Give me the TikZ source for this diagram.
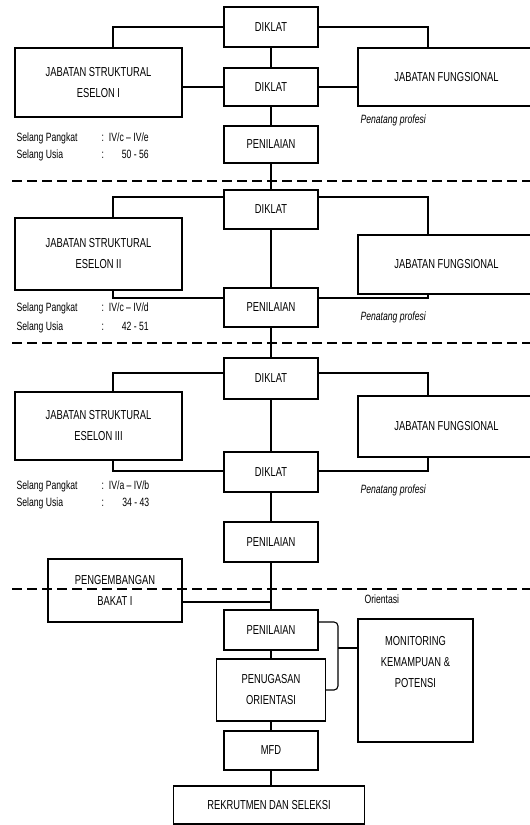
\documentclass[tikz,border=0pt]{standalone}
\usepackage{fontspec}
\setmainfont[FakeStretch=0.72]{Liberation Sans}

\begin{document}
\begin{tikzpicture}[x=1pt,y=-1pt,line width=1.1pt,
    box/.style={draw,align=center,inner sep=2pt,font=\fontsize{13}{21}\selectfont},
    info/.style={anchor=north west,inner sep=0pt,font=\fontsize{12}{17}\selectfont},
    note/.style={anchor=west,inner sep=0pt,font=\fontsize{12}{13}\selectfont\itshape},
    sep/.style={dash pattern=on 10pt off 5pt,line width=1.3pt}]
        \useasboundingbox (0,0) rectangle (530,825);

        % eselon I
        \node[box,minimum width=94,minimum height=40] (d1) at (271,27) {DIKLAT};
        \node[box,minimum width=94,minimum height=38] (d2) at (271,87) {DIKLAT};
        \node[box,minimum width=94,minimum height=37] (p1) at (271,144.5) {PENILAIAN};
        \node[box,minimum width=167,minimum height=69] (js1) at (98.5,82.5) {JABATAN STRUKTURAL\\ESELON I};
        \node[box,minimum width=177,minimum height=58] (jf1) at (446.5,77) {JABATAN FUNGSIONAL};
        \node[info] (i1) at (16,129) {\begin{tabular}{@{}p{85pt}@{}l@{\hspace{5pt}}r@{}}Selang Pangkat & : & IV/c -- IV/e\\Selang Usia & : & 50 - 56\end{tabular}};
        \node[note] (r1) at (360,120) {Penatang profesi};
        \draw (d1.west) -| ([xshift=14.5pt]js1.north);
        \draw (d1.east) -| ([xshift=-18.5pt]jf1.north);
        \draw (d2.west) -- (d2.west -| js1.east);
        \draw (d2.east) -- (d2.east -| jf1.west);

        % eselon II
        \node[box,minimum width=94,minimum height=39] (d3) at (271,209.5) {DIKLAT};
        \node[box,minimum width=94,minimum height=39] (p2) at (271,307.5) {PENILAIAN};
        \node[box,minimum width=167,minimum height=72] (js2) at (98.5,254) {JABATAN STRUKTURAL\\ESELON II};
        \node[box,minimum width=177,minimum height=59] (jf2) at (446.5,264.5) {JABATAN FUNGSIONAL};
        \node[info] (i2) at (16,299) {\begin{tabular}{@{}p{85pt}@{}l@{\hspace{5pt}}r@{}}Selang Pangkat & : & IV/c -- IV/d\\[2pt]Selang Usia & : & 42 - 51\end{tabular}};
        \node[note] (r2) at (360,317) {Penatang profesi};
        \draw ([yshift=12.5pt]d3.west) -| ([xshift=14.5pt]js2.north);
        \draw ([yshift=12.5pt]d3.east) -| ([xshift=-18.5pt]jf2.north);
        \draw ([xshift=14.5pt]js2.south) |- ([yshift=9.5pt]p2.west);
        \draw ([yshift=9.5pt]p2.east) -| ([xshift=-18.5pt]jf2.south);

        % eselon III
        \node[box,minimum width=94,minimum height=41] (d4) at (271,378.5) {DIKLAT};
        \node[box,minimum width=94,minimum height=40] (d5) at (271,472) {DIKLAT};
        \node[box,minimum width=94,minimum height=40] (p3) at (271,542) {PENILAIAN};
        \node[box,minimum width=167,minimum height=68] (js3) at (98.5,426) {JABATAN STRUKTURAL\\ESELON III};
        \node[box,minimum width=177,minimum height=61] (jf3) at (446.5,426.5) {JABATAN FUNGSIONAL};
        \node[info] (i3) at (16,477) {\begin{tabular}{@{}p{85pt}@{}l@{\hspace{5pt}}r@{}}Selang Pangkat & : & IV/a -- IV/b\\Selang Usia & : & 34 - 43\end{tabular}};
        \node[note] (r3) at (360,490) {Penatang profesi};
        \draw ([yshift=5.5pt]d4.west) -| ([xshift=14.5pt]js3.north);
        \draw ([yshift=5.5pt]d4.east) -| ([xshift=-18.5pt]jf3.north);
        \draw ([xshift=14.5pt]js3.south) |- ([yshift=1pt]d5.west);
        \draw ([yshift=1pt]d5.east) -| ([xshift=-18.5pt]jf3.south);

        % orientasi
        \node[box,minimum width=134,minimum height=63] (pb) at (115,590.5) {PENGEMBANGAN\\BAKAT I};
        \node[box,minimum width=94,minimum height=40] (p4) at (271,630) {PENILAIAN};
        \node[box,minimum width=109,minimum height=62] (pg) at (271,690) {PENUGASAN\\ORIENTASI};
        \node[box,minimum width=94,minimum height=39] (mfd) at (271,750.5) {MFD};
        \node[box,minimum width=191,minimum height=38] (rek) at (269,805) {REKRUTMEN DAN SELEKSI};
        \node[box,minimum width=115,minimum height=123] (mon) at (415.5,680.5) {};
        \node[box,draw=none,anchor=north] (mont) at ([yshift=-15pt]mon.north) {MONITORING\\KEMAMPUAN \&\\POTENSI};
        \node[note,font=\fontsize{12}{13}\selectfont] (ori) at (364,599) {Orientasi};
        \coordinate (j) at (271,602);
        \coordinate (b1) at (338,622);
        \coordinate (b2) at (338,690);
        \coordinate (bm) at (338,648);
        \draw (pb.east |- j) -- (j);
        \draw[rounded corners=4pt] (p4.east |- b1) -- (b1) -- (b2) -- (pg.east |- b2);
        \draw (bm) -- (mon.west |- bm);

        % spine
        \draw (d1) -- (d2) -- (p1) -- (d3) -- (p2) -- (d4) -- (d5) -- (p3) -- (p4) -- (pg) -- (mfd);
        \draw (mfd.south) -- (mfd.south |- rek.north);

        % separators
        \draw[sep] (12,181) -- (530,181);
        \draw[sep] (12,343) -- (530,343);
        \draw[sep] (12,589) -- (530,589);
      \end{tikzpicture}
\end{document}
